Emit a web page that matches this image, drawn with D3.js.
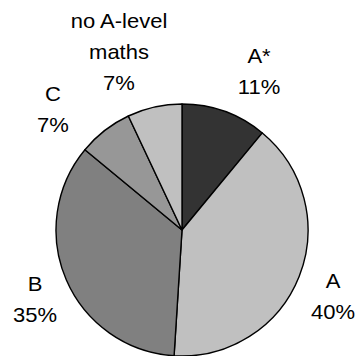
<!DOCTYPE html>
<html>
<head>
<meta charset="utf-8">
<script src="https://cdn.jsdelivr.net/npm/d3@7"></script>
<style>
  html, body { margin: 0; padding: 0; background: #fff; }
  svg { display: block; }
</style>
</head>
<body>
<svg id="chart" width="357" height="356"></svg>
<script>
// Grade distribution, clockwise from 12 o'clock
const categories = ["A*", "A", "B", "C", "no A-level maths"];
const values = [11, 40, 35, 7, 7];
const labelLines = [["A*", "11%"], ["A", "40%"], ["B", "35%"], ["C", "7%"], ["no A-level", "maths", "7%"]];
const colors = ["#333333", "#c0c0c0", "#808080", "#979797", "#c0c0c0"];

const svg = d3.select("#chart");
const cx = 182, cy = 230, r = 126;

const pie = d3.pie().sort(null).value(d => d.value);
const arc = d3.arc().innerRadius(0).outerRadius(r);
const data = categories.map((c, i) => ({ cat: c, value: values[i], color: colors[i], lines: labelLines[i] }));
const arcs = pie(data);

const g = svg.append("g").attr("transform", `translate(${cx},${cy})`);
g.selectAll("path")
  .data(arcs)
  .join("path")
  .attr("d", arc)
  .attr("fill", d => d.data.color)
  .attr("stroke", "#000")
  .attr("stroke-width", 1.4)
  .attr("stroke-linejoin", "round");

// label anchor: centre x and baseline of the last line
const labelAnchor = {
  "A*": [259, 94],
  "A": [333, 319],
  "B": [35, 322],
  "C": [53, 132],
  "no A-level maths": [119, 90]
};
const lineGap = 31;

arcs.forEach(a => {
  const [x, y] = labelAnchor[a.data.cat];
  const lines = a.data.lines;
  const t = svg.append("g")
    .attr("transform", `translate(${x},${y}) scale(1.1,1)`);
  lines.forEach((ln, i) => {
    t.append("text")
      .attr("x", 0)
      .attr("y", -(lines.length - 1 - i) * lineGap)
      .attr("text-anchor", "middle")
      .attr("font-family", "'Liberation Sans', Arial, sans-serif")
      .attr("font-size", 20)
      .attr("fill", "#000")
      .text(ln);
  });
});
</script>
</body>
</html>
